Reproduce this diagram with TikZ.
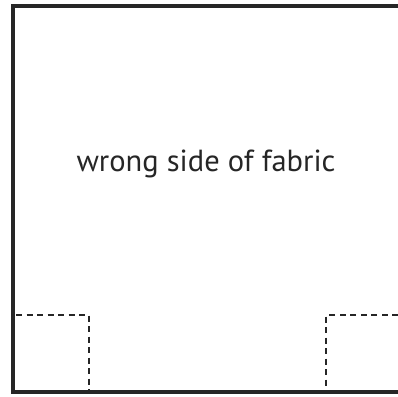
\documentclass[tikz,border=0pt]{standalone}
\usepackage{fontspec}
\setmainfont{PT Sans}
\usepackage{tikz}
\usetikzlibrary{positioning}

\begin{document}
\begin{tikzpicture}[x=1pt,y=-1pt,
  fabric/.style={draw=black!85,line width=3.2pt},
  seam/.style={draw=black!85,line width=2.6pt,dash pattern=on 6pt off 4.5pt},
  lbl/.style={font=\fontsize{30.5}{36}\selectfont,text=black!85}]
\useasboundingbox (0,0) rectangle (398,396);
% fabric outline, open on the right
\coordinate (tr) at (398,6);
\coordinate (tl) at (13,6);
\coordinate (bl) at (13,392);
\coordinate (br) at (398,392);
\draw[fabric] (tr) -- (tl) -- (bl) -- (br);
% corner squares
\coordinate (lsq) at (89,315);
\draw[seam] (16,315) -- (lsq) -- (89,392);
\coordinate (rsq) at (326,315);
\draw[seam] (398,315) -- (rsq) -- (326,392);
\node[lbl] (side) at (206,164) {wrong side of fabric};
\end{tikzpicture}
\end{document}
